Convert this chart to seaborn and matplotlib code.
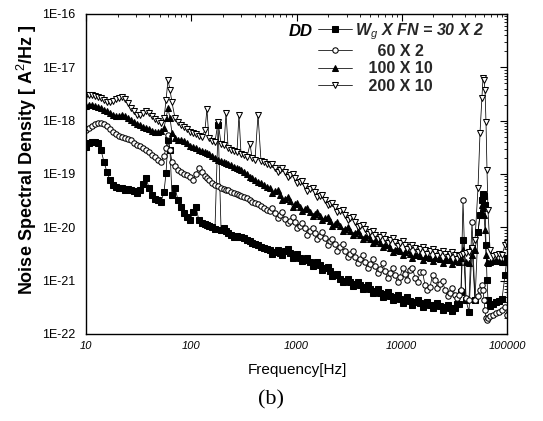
import matplotlib
matplotlib.use("Agg")
import matplotlib.pyplot as plt
import seaborn as sns
import pandas as pd
from matplotlib.lines import Line2D
from matplotlib.ticker import LogLocator, FixedLocator, FixedFormatter, NullFormatter

sns.set_theme(style="white")
plt.rcParams['font.family'] = ['Liberation Sans', 'DejaVu Sans']
plt.rcParams['mathtext.fontset'] = 'custom'
plt.rcParams['mathtext.rm'] = 'Liberation Sans'
plt.rcParams['mathtext.it'] = 'Liberation Sans:italic'
plt.rcParams['mathtext.bf'] = 'Liberation Sans:bold'

# ---------------- data ----------------
freq = [10, 10.7, 11.4, 12.2, 13.0, 13.9, 14.8, 15.8, 16.9, 18.0,
        19.3, 20.6, 22.0, 23.5, 25.1, 26.8, 28.6, 30.5, 32.6, 34.8,
        37.2, 39.7, 42.4, 45.2, 48.3, 51.6, 55.1,
        57.6, 60.1, 62.8, 65.6,
        70.1, 74.8, 79.9, 85.3, 91.1, 97.3, 104, 111, 118, 126, 135,
        141, 147,
        157, 168, 180, 192, 205,
        214, 224,
        239, 255, 272,
        284, 297,
        317, 339, 362,
        378,
        403, 431, 460, 491, 524, 560,
        625, 697, 778, 868, 968,
        1079, 1204, 1344, 1499, 1672,
        1866, 2081, 2322, 2591, 2890,
        3224, 3597, 4013, 4477, 4995,
        5572, 6217, 6936, 7737, 8632,
        9630, 10740, 11980, 13370, 14910,
        16630, 18560, 20700, 23090, 25760,
        28740, 32060,
        35000, 36560, 38190, 40790, 43550, 46510, 49660, 53030, 55400, 57870,
        59150, 60450, 61800, 63160, 64560, 65990, 68950, 73620, 78620, 83950,
        89640, 95720, 100000]

psd_30x2 = [3.2e-19, 3.8e-19, 4.0e-19, 4.0e-19, 3.8e-19, 2.8e-19, 1.7e-19, 1.1e-19, 7.7e-20, 6.2e-20,
            5.7e-20, 5.5e-20, 5.5e-20, 5.0e-20, 5.2e-20, 5.0e-20, 4.8e-20, 4.4e-20, 5.0e-20, 6.5e-20,
            8.4e-20, 5.5e-20, 4.0e-20, 3.4e-20, 3.25e-20, 3.0e-20, 4.6e-20,
            1.05e-19, 4.3e-19, 2.8e-19, 4.0e-20,
            5.5e-20, 3.25e-20, 2.4e-20, 1.86e-20, 1.56e-20, 1.37e-20, 1.94e-20, 2.4e-20, 1.37e-20, 1.21e-20, 1.15e-20,
            1.10e-20, 1.06e-20,
            1.01e-20, 9.3e-21, 8.3e-19, 8.9e-21, 9.7e-21,
            8.5e-21, 7.8e-21,
            7.2e-21, 6.6e-21, 6.9e-21,
            6.6e-21, 6.6e-21,
            6.3e-21, 5.8e-21, 5.5e-21,
            5.1e-21,
            4.9e-21, 4.7e-21, 4.3e-21, 4.1e-21, 3.9e-21, 3.8e-21,
            3.45e-21, 3.3e-21, 3.6e-21, 3.3e-21, 2.9e-21,
            2.7e-21, 2.45e-21, 2.25e-21, 2.15e-21, 1.97e-21,
            1.73e-21, 1.52e-21, 1.28e-21, 1.08e-21, 9.9e-22,
            9.4e-22, 8.7e-22, 8.3e-22, 7.6e-22, 7.0e-22,
            6.4e-22, 5.9e-22, 5.6e-22, 5.2e-22, 4.9e-22,
            4.5e-22, 4.3e-22, 4.2e-22, 4.0e-22, 3.8e-22,
            3.65e-22, 3.5e-22, 3.5e-22, 3.35e-22, 3.2e-22,
            3.1e-22, 3.1e-22,
            3.65e-22, 6.1e-22, 5.8e-21, 4.3e-22, 2.6e-22, 4.1e-21, 4.3e-22, 8.2e-21, 1.70e-20, 3.25e-20,
            4.2e-20, 3.9e-20, 2.6e-20, 4.7e-21, 1.03e-21, 4.3e-22, 3.35e-22, 3.65e-22, 4.0e-22, 4.2e-22,
            4.5e-22, 1.28e-21, 2.7e-21]

psd_60x2 = [6.7e-19, 7.3e-19, 7.9e-19, 8.7e-19, 9.0e-19, 9.0e-19, 8.7e-19, 7.9e-19, 7.0e-19, 6.1e-19,
            5.6e-19, 5.2e-19, 4.9e-19, 4.7e-19, 4.5e-19, 4.3e-19, 3.8e-19, 3.5e-19, 3.35e-19, 3.1e-19,
            2.8e-19, 2.6e-19, 2.3e-19, 2.1e-19, 1.8e-19, 1.7e-19, 2.2e-19,
            3.1e-19, 5.4e-19, 2.8e-19, 1.7e-19,
            1.4e-19, 1.2e-19, 1.1e-19, 1.0e-19, 9.6e-20, 8.8e-20, 7.7e-20, 1.0e-19, 1.3e-19, 1.1e-19, 9.2e-20,
            8.4e-20, 7.7e-20,
            6.8e-20, 6.2e-20, 6.0e-20, 5.5e-20, 5.2e-20,
            5.0e-20, 5.0e-20,
            4.6e-20, 4.4e-20, 4.2e-20,
            4.0e-20, 3.9e-20,
            3.7e-20, 3.55e-20, 3.25e-20,
            3.0e-20,
            2.9e-20, 2.7e-20, 2.5e-20, 2.3e-20, 2.1e-20, 2.0e-20,
            1.86e-20, 1.70e-20, 1.43e-20, 1.32e-20, 1.26e-20,
            1.06e-20, 9.7e-21, 8.5e-21, 7.8e-21, 6.9e-21,
            6.3e-21, 5.5e-21, 4.9e-21, 4.3e-21, 3.6e-21,
            3.2e-21, 2.8e-21, 2.55e-21, 2.25e-21, 2.05e-21,
            1.88e-21, 1.66e-21, 1.52e-21, 1.39e-21, 1.28e-21,
            1.18e-21, 1.34e-21, 1.59e-21, 1.13e-21, 1.46e-21,
            8.3e-22, 7.6e-22, 1.03e-21, 8.7e-22, 6.7e-22,
            5.9e-22, 5.4e-22,
            5.4e-22, 6.7e-22, 3.25e-20, 4.7e-22, 4.3e-22, 1.26e-20, 4.3e-22, 5.2e-22, 6.7e-22, 8.3e-22,
            6.7e-22, 4.3e-22, 2.8e-22, 2.0e-22, 1.8e-22, 2.0e-22, 2.2e-22, 2.3e-22, 2.5e-22, 2.6e-22,
            2.8e-22, 3.2e-22, 2.3e-22]

psd_100x10 = [1.9e-18, 2.0e-18, 2.0e-18, 1.9e-18, 1.8e-18, 1.7e-18, 1.6e-18, 1.5e-18, 1.4e-18, 1.3e-18,
              1.2e-18, 1.22e-18, 1.28e-18, 1.22e-18, 1.12e-18, 1.03e-18, 9.4e-19, 8.7e-19, 8.3e-19, 7.6e-19,
              7.3e-19, 7.0e-19, 6.4e-19, 6.1e-19, 6.1e-19, 6.4e-19, 7.3e-19,
              1.12e-18, 1.7e-18, 1.12e-18, 5.9e-19,
              4.7e-19, 4.3e-19, 4.3e-19, 4.2e-19, 3.8e-19, 3.35e-19, 3.2e-19, 3.1e-19, 2.8e-19, 2.7e-19, 2.6e-19,
              2.5e-19, 2.4e-19,
              2.2e-19, 2.0e-19, 1.8e-19, 1.75e-19, 1.7e-19,
              1.6e-19, 1.55e-19,
              1.5e-19, 1.35e-19, 1.3e-19,
              1.25e-19, 1.2e-19,
              1.1e-19, 1.0e-19, 8.8e-20,
              8.4e-20,
              7.7e-20, 7.1e-20, 6.8e-20, 6.2e-20, 5.7e-20, 5.5e-20,
              4.8e-20, 4.0e-20, 3.4e-20, 3.1e-20, 2.7e-20,
              2.4e-20, 2.2e-20, 1.94e-20, 1.78e-20, 1.63e-20,
              1.50e-20, 1.32e-20, 1.15e-20, 1.06e-20, 9.3e-21,
              8.5e-21, 7.8e-21, 7.2e-21, 6.6e-21, 6.0e-21,
              5.5e-21, 5.1e-21, 4.7e-21, 4.1e-21, 3.8e-21,
              3.6e-21, 3.45e-21, 3.2e-21, 3.0e-21, 2.9e-21,
              2.8e-21, 2.7e-21, 2.7e-21, 2.55e-21, 2.45e-21,
              2.45e-21, 2.35e-21,
              2.25e-21, 2.7e-21, 3.8e-21, 2.25e-21, 2.15e-21, 3.0e-21, 3.8e-21, 8.2e-21, 1.70e-20, 2.6e-20,
              2.3e-20, 1.70e-20, 8.9e-21, 3.0e-21, 2.25e-21, 2.15e-21, 2.25e-21, 2.35e-21, 2.45e-21, 2.35e-21,
              2.25e-21, 2.25e-21, 2.25e-21]

psd_200x10 = [3.0e-18, 3.0e-18, 3.0e-18, 2.9e-18, 2.8e-18, 2.7e-18, 2.4e-18, 2.2e-18, 2.2e-18, 2.3e-18,
              2.5e-18, 2.7e-18, 2.8e-18, 2.5e-18, 2.1e-18, 1.7e-18, 1.5e-18, 1.3e-18, 1.3e-18, 1.4e-18,
              1.5e-18, 1.4e-18, 1.22e-18, 1.08e-18, 9.9e-19, 9.0e-19, 1.12e-18,
              2.4e-18, 5.8e-18, 3.8e-18, 2.2e-18,
              1.12e-18, 9.4e-19, 8.3e-19, 7.6e-19, 7.0e-19, 6.1e-19, 5.9e-19, 5.6e-19, 5.2e-19, 4.9e-19, 6.7e-19,
              1.65e-18, 4.7e-19,
              4.2e-19, 4.0e-19, 9.4e-19, 3.65e-19, 3.5e-19,
              1.4e-18, 3.1e-19,
              2.8e-19, 2.7e-19, 2.6e-19,
              1.3e-18, 2.4e-19,
              2.3e-19, 2.1e-19, 3.65e-19,
              2.0e-19,
              1.8e-19, 1.3e-18, 1.75e-19, 1.7e-19, 1.55e-19, 1.5e-19,
              1.3e-19, 1.2e-19, 1.1e-19, 9.6e-20, 8.4e-20,
              7.1e-20, 6.0e-20, 5.2e-20, 4.6e-20, 3.9e-20,
              3.25e-20, 2.7e-20, 2.4e-20, 2.0e-20, 1.70e-20,
              1.50e-20, 1.26e-20, 1.06e-20, 9.3e-21, 8.2e-21,
              7.2e-21, 6.6e-21, 6.0e-21, 5.8e-21, 5.3e-21,
              5.1e-21, 4.7e-21, 4.3e-21, 4.1e-21, 3.9e-21,
              3.8e-21, 3.6e-21, 3.45e-21, 3.3e-21, 3.2e-21,
              3.2e-21, 3.0e-21,
              2.9e-21, 3.0e-21, 3.2e-21, 3.3e-21, 3.45e-21, 4.1e-21, 5.8e-21, 5.5e-20, 5.9e-19, 2.7e-18,
              6.3e-18, 5.8e-18, 3.8e-18, 9.4e-19, 1.2e-19, 2.1e-20, 3.8e-21, 2.9e-21, 3.0e-21, 3.2e-21,
              3.0e-21, 4.7e-21, 5.1e-21]

# extra scattered readings in the dense 600 Hz - 34 kHz band
freq_mid = [591, 660, 736, 822, 917, 1022, 1140, 1272, 1420, 1583,
            1766, 1971, 2198, 2452, 2737, 3052, 3405, 3799, 4239, 4729,
            5276, 5885, 6566, 7326, 8172, 9117, 10170, 11340, 12650, 14120,
            15750, 17560, 19600, 21860, 24390, 27210, 30350, 33500]

psd_30x2_mid = [3.2e-21, 3.8e-21, 3.0e-21, 3.9e-21, 2.7e-21, 3.2e-21, 2.35e-21, 2.7e-21, 1.88e-21, 2.25e-21,
                1.59e-21, 1.80e-21, 1.23e-21, 1.34e-21, 9.4e-22, 1.08e-21, 7.9e-22, 9.4e-22, 7.0e-22, 8.3e-22,
                5.9e-22, 7.0e-22, 4.9e-22, 6.1e-22, 4.3e-22, 5.4e-22, 3.8e-22, 4.9e-22, 3.5e-22, 4.3e-22,
                3.2e-22, 4.0e-22, 3.1e-22, 3.8e-22, 2.8e-22, 3.5e-22, 2.7e-22, 3.65e-22]

psd_60x2_mid = [2.3e-20, 1.50e-20, 1.94e-20, 1.21e-20, 1.56e-20, 9.7e-21, 1.21e-20, 7.2e-21, 9.7e-21, 6.0e-21,
                8.2e-21, 4.7e-21, 6.0e-21, 3.6e-21, 4.9e-21, 2.8e-21, 3.6e-21, 2.15e-21, 3.0e-21, 1.73e-21,
                2.55e-21, 1.39e-21, 2.15e-21, 1.13e-21, 1.73e-21, 9.4e-22, 1.73e-21, 1.03e-21, 1.73e-21, 9.4e-22,
                1.46e-21, 6.7e-22, 1.28e-21, 7.3e-22, 9.9e-22, 5.2e-22, 7.3e-22, 4.7e-22]

psd_100x10_mid = [4.4e-20, 5.0e-20, 3.25e-20, 3.7e-20, 2.4e-20, 2.9e-20, 2.0e-20, 2.3e-20, 1.63e-20, 1.94e-20,
                  1.37e-20, 1.56e-20, 1.06e-20, 1.26e-20, 8.5e-21, 1.01e-20, 7.2e-21, 8.5e-21, 6.0e-21, 7.2e-21,
                  5.1e-21, 6.0e-21, 4.3e-21, 4.9e-21, 3.45e-21, 4.1e-21, 3.0e-21, 3.8e-21, 2.7e-21, 3.3e-21,
                  2.45e-21, 3.0e-21, 2.35e-21, 2.9e-21, 2.15e-21, 2.8e-21, 2.05e-21, 2.7e-21]

psd_200x10_mid = [1.55e-19, 1.1e-19, 1.3e-19, 8.8e-20, 1.0e-19, 6.8e-20, 7.4e-20, 4.8e-20, 5.5e-20, 3.7e-20,
                  4.0e-20, 2.6e-20, 2.9e-20, 1.94e-20, 2.1e-20, 1.37e-20, 1.56e-20, 1.01e-20, 1.10e-20, 7.5e-21,
                  8.5e-21, 6.0e-21, 7.2e-21, 5.1e-21, 6.3e-21, 4.5e-21, 5.5e-21, 3.9e-21, 4.7e-21, 3.45e-21,
                  4.3e-21, 3.2e-21, 3.9e-21, 2.9e-21, 3.6e-21, 2.8e-21, 3.45e-21, 2.55e-21]

series_labels = ["W$_g$ X FN = 30 X 2", "     60 X 2", "   100 X 10", "   200 X 10"]
y_ticks = [1e-22, 1e-21, 1e-20, 1e-19, 1e-18, 1e-17, 1e-16]
y_tick_labels = ["1E-22", "1E-21", "1E-20", "1E-19", "1E-18", "1E-17", "1E-16"]
x_ticks = [10, 100, 1000, 10000, 100000]
x_tick_labels = ["10", "100", "1000", "10000", "100000"]

# ---------------- figure ----------------
W, H = 543, 421
fig = plt.figure(figsize=(W / 100, H / 100), dpi=100)
fig.patch.set_facecolor("white")
ax = fig.add_axes([86 / W, 1 - 334 / H, (507 - 86) / W, (334 - 14) / H])
ax.set_facecolor("white")

styles = [
    dict(marker="s", markerfacecolor="black"),
    dict(marker="o", markerfacecolor="white"),
    dict(marker="^", markerfacecolor="black"),
    dict(marker="v", markerfacecolor="white"),
]
series = [(psd_30x2, psd_30x2_mid), (psd_60x2, psd_60x2_mid),
          (psd_100x10, psd_100x10_mid), (psd_200x10, psd_200x10_mid)]
common = dict(color="black", linewidth=0.55, markersize=3.9, markeredgecolor="black",
              markeredgewidth=0.75, estimator=None)

for (vals, mids), st in zip(series, styles):
    df = pd.DataFrame({"f": freq + freq_mid, "psd": vals + mids}).sort_values("f")
    sns.lineplot(data=df, x="f", y="psd", ax=ax, sort=False, **st, **common)

ax.set_xscale("log")
ax.set_yscale("log")
ax.set_xlim(10, 100000)
ax.set_ylim(1e-22, 1e-16)

ax.xaxis.set_major_locator(FixedLocator(x_ticks))
ax.xaxis.set_major_formatter(FixedFormatter(x_tick_labels))
ax.xaxis.set_minor_locator(LogLocator(base=10, subs=range(2, 10), numticks=50))
ax.xaxis.set_minor_formatter(NullFormatter())
ax.yaxis.set_major_locator(FixedLocator(y_ticks))
ax.yaxis.set_major_formatter(FixedFormatter(y_tick_labels))
ax.yaxis.set_minor_locator(LogLocator(base=10, subs=range(2, 10), numticks=50))
ax.yaxis.set_minor_formatter(NullFormatter())

ax.tick_params(which="both", direction="in", top=True, right=True, colors="black")
ax.tick_params(which="major", length=5, width=0.8)
ax.tick_params(which="minor", length=2.5, width=0.6)
ax.tick_params(axis="x", which="major", labelsize=8, pad=5)
ax.tick_params(axis="y", which="major", labelsize=9, pad=8)
for lab in ax.get_xticklabels():
    lab.set_fontstyle("italic")

for sp in ax.spines.values():
    sp.set_color("black")
    sp.set_linewidth(1.0)
    sp.set_visible(True)

ax.set_xlabel("")
ax.set_ylabel("")
fig.text(297 / W, 1 - 370 / H, "Frequency[Hz]", fontsize=11, ha="center", va="center", color="black")
fig.text(27 / W, 1 - 160 / H, "Noise Spectral Density [ A$^2$/Hz ]", fontsize=13,
         fontweight="bold", rotation=90, ha="center", va="center", color="black")

# legend
handles = [Line2D([], [], color="black", linewidth=0.55, markersize=3.9,
                  markeredgecolor="black", markeredgewidth=0.75, **st) for st in styles]
leg = ax.legend(handles, series_labels, loc="upper left", bbox_to_anchor=(318 / W, 1 - 21 / H),
                bbox_transform=fig.transFigure, frameon=False, borderpad=0, borderaxespad=0,
                prop=dict(weight="bold", size=11.5), handlelength=2.1, handletextpad=0.2,
                labelspacing=0.15)
leg.get_texts()[0].set_fontstyle("italic")
fig.text(289 / W, 1 - 31 / H, "DD", fontsize=12, fontweight="bold", fontstyle="italic",
         ha="left", va="center", color="black")

fig.text(271 / W, 1 - 400 / H, "(b)", fontsize=16, family="Liberation Serif",
         ha="center", va="center", color="black")

fig.savefig("out.png", dpi=100, facecolor="white")
